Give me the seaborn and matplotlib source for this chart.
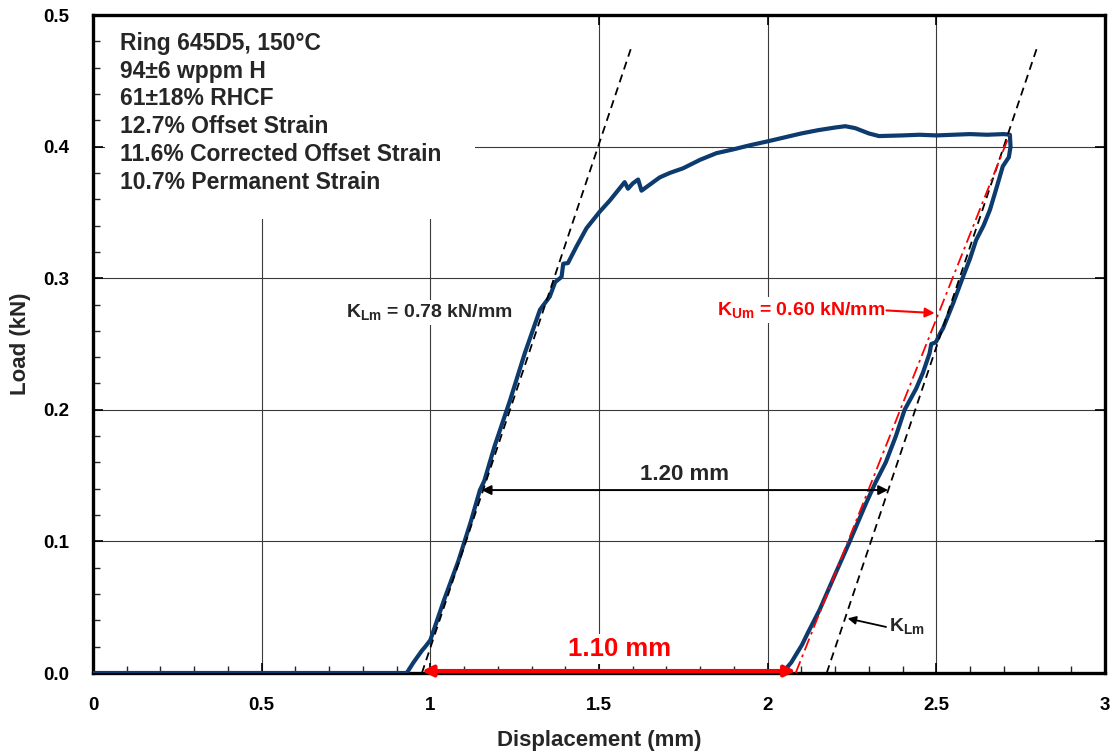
import matplotlib
matplotlib.use("Agg")
import matplotlib.pyplot as plt
from matplotlib.patches import Rectangle
import seaborn as sns
import pandas as pd
from matplotlib.ticker import MultipleLocator

# ---- data ----
curve_x = [0.0, 0.93, 0.95, 0.975, 0.985, 1.0, 1.04, 1.083, 1.12, 1.147, 1.16, 1.19,
           1.236, 1.28, 1.325, 1.354, 1.37, 1.389, 1.394, 1.408, 1.433, 1.463, 1.502,
           1.532, 1.576, 1.586, 1.60, 1.616, 1.626, 1.65, 1.68, 1.71, 1.749, 1.80,
           1.848, 1.90, 1.947, 2.0, 2.05, 2.10, 2.15, 2.20, 2.23, 2.26, 2.30, 2.33,
           2.40, 2.45, 2.50, 2.55, 2.60, 2.65, 2.70, 2.718,
           2.72, 2.715, 2.697, 2.68, 2.659, 2.64, 2.618, 2.60, 2.579, 2.55, 2.52,
           2.511, 2.50, 2.496, 2.485, 2.48, 2.46, 2.44, 2.406, 2.38, 2.35, 2.32,
           2.29, 2.26, 2.24, 2.20, 2.154, 2.12, 2.102, 2.07, 2.05, 2.03, 1.97]
curve_y = [0.0, 0.0, 0.008, 0.017, 0.020, 0.025, 0.055, 0.085, 0.115, 0.139, 0.146, 0.172,
           0.207, 0.243, 0.276, 0.286, 0.297, 0.301, 0.311, 0.3115, 0.324, 0.338, 0.3505,
           0.359, 0.373, 0.368, 0.372, 0.375, 0.3665, 0.371, 0.3766, 0.380, 0.3835, 0.390,
           0.395, 0.398, 0.401, 0.404, 0.407, 0.410, 0.4125, 0.4145, 0.4155, 0.414, 0.410, 0.408,
           0.4085, 0.409, 0.4085, 0.409, 0.4095, 0.409, 0.4095, 0.409,
           0.400, 0.392, 0.385, 0.370, 0.352, 0.340, 0.329, 0.315, 0.301, 0.281, 0.262,
           0.258, 0.252, 0.251, 0.250, 0.243, 0.228, 0.216, 0.200, 0.180, 0.160, 0.145,
           0.128, 0.110, 0.098, 0.075, 0.048, 0.031, 0.0215, 0.008, 0.002, 0.0, 0.0]

klm_load_x = [0.975, 1.594]
klm_load_y = [0.0, 0.474]
klm_unload_x = [2.175, 2.797]
klm_unload_y = [0.0, 0.474]
kum_x = [2.083, 2.717]
kum_y = [0.0, 0.409]

info_lines = ["Ring 645D5, 150°C", "94±6 wppm H", "61±18% RHCF",
              "12.7% Offset Strain", "11.6% Corrected Offset Strain",
              "10.7% Permanent Strain"]

x_ticks = [0, 0.5, 1, 1.5, 2, 2.5, 3]
x_ticklabels = ["0", "0.5", "1", "1.5", "2", "2.5", "3"]
y_ticks = [0.0, 0.1, 0.2, 0.3, 0.4, 0.5]
y_ticklabels = ["0.0", "0.1", "0.2", "0.3", "0.4", "0.5"]

# ---- style ----
sns.set_theme(style="white")
plt.rcParams["font.family"] = ["Liberation Sans", "DejaVu Sans"]
plt.rcParams["font.weight"] = "bold"
plt.rcParams["mathtext.fontset"] = "custom"
plt.rcParams["mathtext.bf"] = "Liberation Sans:bold"
plt.rcParams["mathtext.rm"] = "Liberation Sans:bold"
plt.rcParams["mathtext.it"] = "Liberation Sans:bold"
plt.rcParams["mathtext.default"] = "bf"

fig = plt.figure(figsize=(11.17, 7.53), dpi=100)
ax = fig.add_axes([93 / 1117, 1 - 673 / 753, (1105 - 93) / 1117, (673 - 15) / 753])

ax.set_xlim(0, 3)
ax.set_ylim(0, 0.5)

grid_col = "#3a3a3a"
ax.set_axisbelow(True)
ax.grid(True, which="major", color=grid_col, lw=0.8)

# white text-box area behind the info block (covers gridlines)
ax.add_patch(Rectangle((0.036, 0.345), 1.132 - 0.036, 0.155, facecolor="white",
                       edgecolor="none", zorder=1.5))

df = pd.DataFrame({"x": curve_x, "y": curve_y})
sns.lineplot(data=df, x="x", y="y", sort=False, estimator=None, ax=ax,
             color="#0d3b6e", lw=3.0, zorder=4)

ax.plot(klm_load_x, klm_load_y, color="black", lw=1.3, dashes=(4.5, 3), zorder=5)
ax.plot(klm_unload_x, klm_unload_y, color="black", lw=1.3, dashes=(4.5, 3), zorder=5)
ax.plot(kum_x, kum_y, color="red", lw=1.3, dashes=(7, 2.5, 1.5, 2.5), zorder=5)

ax.set_xticks(x_ticks)
ax.set_xticklabels(x_ticklabels)
ax.set_yticks(y_ticks)
ax.set_yticklabels(y_ticklabels)
ax.xaxis.set_minor_locator(MultipleLocator(0.1))
ax.yaxis.set_minor_locator(MultipleLocator(0.02))
ax.tick_params(which="major", direction="in", length=7, width=1.2, top=True,
               right=True, bottom=True, left=True, labelsize=13.5, pad=17,
               colors="black")
ax.tick_params(which="minor", direction="in", length=5, width=1.0, top=False,
               right=False, bottom=True, left=True)
for lab in ax.get_xticklabels() + ax.get_yticklabels():
    lab.set_fontweight("bold")

for sp in ax.spines.values():
    sp.set_color("black")
    sp.set_linewidth(2.4)

ax.set_xlabel("Displacement (mm)", fontsize=16, fontweight="bold", labelpad=12)
ax.set_ylabel("Load (kN)", fontsize=16, fontweight="bold", labelpad=9)

wb = dict(facecolor="white", edgecolor="none", pad=2)

ax.text(0.079, 0.487, "\n".join(info_lines), fontsize=16.5, fontweight="bold",
        va="top", ha="left", linespacing=1.26, zorder=6)

ax.text(0.998, 0.274, r"K$_{Lm}$ = 0.78 kN/mm", fontsize=14, fontweight="bold",
        ha="center", va="center", zorder=6, bbox=wb)

ax.text(2.347, 0.276, r"K$_{Um}$ = 0.60 kN/mm", fontsize=14, fontweight="bold",
        color="red", ha="right", va="center", zorder=6, bbox=wb)
ax.annotate("", xy=(2.495, 0.2735), xytext=(2.352, 0.2755),
            arrowprops=dict(arrowstyle="-|>", color="red", lw=1.5,
                            mutation_scale=14, shrinkA=0, shrinkB=0), zorder=6)

ax.text(1.754, 0.151, "1.20 mm", fontsize=16, fontweight="bold", ha="center",
        va="center", zorder=6, bbox=wb)
ax.annotate("", xy=(1.152, 0.139), xytext=(2.357, 0.139),
            arrowprops=dict(arrowstyle="<|-|>", color="black", lw=1.4,
                            mutation_scale=14, shrinkA=0, shrinkB=0), zorder=6)

ax.text(1.561, 0.018, "1.10 mm", fontsize=18.5, fontweight="bold", color="red",
        ha="center", va="center", zorder=6, bbox=wb)
ax.annotate("", xy=(0.975, 0.0015), xytext=(2.083, 0.0015),
            arrowprops=dict(arrowstyle="<|-|>", color="red", lw=3,
                            mutation_scale=16, shrinkA=0, shrinkB=0), zorder=7)

ax.text(2.36, 0.0355, r"K$_{Lm}$", fontsize=14, fontweight="bold",
        ha="left", va="center", zorder=6, bbox=wb)
ax.annotate("", xy=(2.237, 0.0415), xytext=(2.351, 0.035),
            arrowprops=dict(arrowstyle="-|>", color="black", lw=1.3,
                            mutation_scale=12, shrinkA=0, shrinkB=0), zorder=6)

fig.savefig("out.png", dpi=100)
